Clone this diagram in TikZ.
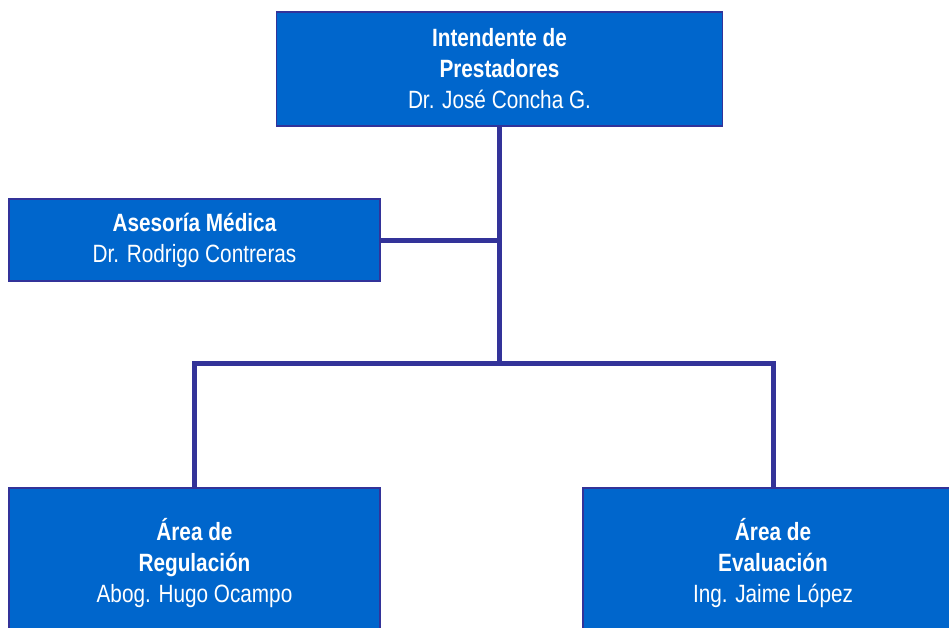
\documentclass[tikz,border=0pt]{standalone}
\usepackage{fontspec}
\setmainfont[FakeStretch=0.83]{Liberation Sans}
\definecolor{boxblue}{HTML}{0066CC}
\definecolor{linkblue}{HTML}{333399}
\tikzset{
	unitbox/.style={draw=linkblue, line width=1.5pt, fill=boxblue, text=white, align=center,
		inner sep=0pt, font=\fontsize{25}{31}\selectfont},
	link/.style={draw=linkblue, line width=5pt}
}
\begin{document}
\begin{tikzpicture}[x=1pt,y=-1pt]
		\useasboundingbox (0,0) rectangle (949,628);
		\clip (0,0) rectangle (949,628);
		\node[unitbox, minimum width=446pt, minimum height=114pt] (int) at (499.5,69)
			{\textbf{Intendente de}\\ \textbf{Prestadores}\\ Dr. José Concha G.};
		\node[unitbox, minimum width=371pt, minimum height=82pt] (ase) at (194.5,240)
			{\textbf{Asesoría Médica}\\ Dr. Rodrigo Contreras};
		\node[unitbox, minimum width=371pt, minimum height=150pt] (reg) at (194.5,563)
			{\textbf{Área de}\\ \textbf{Regulación}\\ Abog. Hugo Ocampo};
		\node[unitbox, minimum width=380pt, minimum height=150pt] (eva) at (773,563)
			{\textbf{Área de}\\ \textbf{Evaluación}\\ Ing. Jaime López};
		\coordinate (hub) at (int.south |- 0,363);
		\draw[link] (int.south) -- (hub);
		\draw[link] (ase.east) -- (ase.east -| int.south);
		\draw[link] (reg.north) |- (hub) -| (eva.north);
	\end{tikzpicture}
\end{document}
